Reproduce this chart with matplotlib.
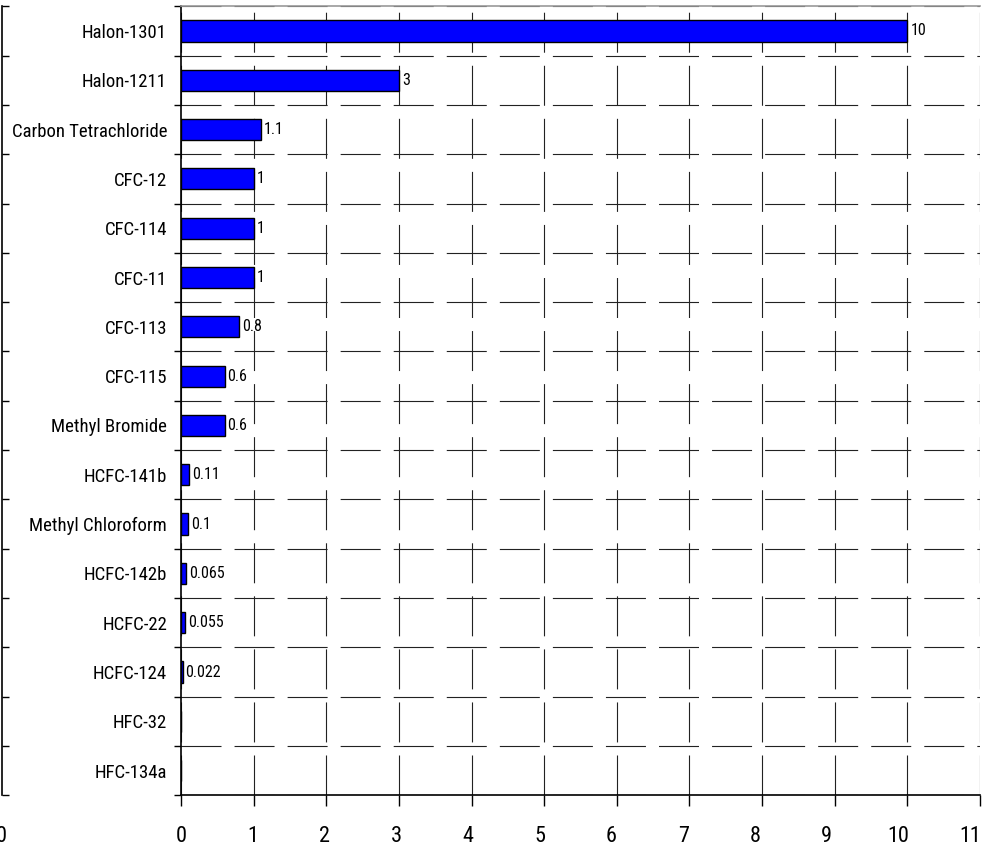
import matplotlib
matplotlib.use("Agg")
import matplotlib.pyplot as plt
from matplotlib.transforms import ScaledTranslation
import numpy as np

# Ozone depletion potential by substance
substances = ["Halon-1301", "Halon-1211", "Carbon Tetrachloride", "CFC-12", "CFC-114",
              "CFC-11", "CFC-113", "CFC-115", "Methyl Bromide", "HCFC-141b",
              "Methyl Chloroform", "HCFC-142b", "HCFC-22", "HCFC-124", "HFC-32", "HFC-134a"]
odp = [10, 3, 1.1, 1, 1, 1, 0.8, 0.6, 0.6, 0.11, 0.1, 0.065, 0.055, 0.022, 0, 0]
odp_labels = ["10", "3", "1.1", "1", "1", "1", "0.8", "0.6", "0.6", "0.11", "0.1",
              "0.065", "0.055", "0.022", "", ""]
x_ticks = list(range(0, 12))

plt.rcParams['font.family'] = ['Roboto Condensed', 'Archivo Narrow', 'Liberation Sans Narrow',
                               'Liberation Sans', 'DejaVu Sans']
plt.rcParams['lines.scale_dashes'] = False

W, H = 982, 850
fig = plt.figure(figsize=(W / 100, H / 100), dpi=100)

left, right, top, bottom = 181, 980, 6.3, 795.3
ax = fig.add_axes([left / W, 1 - bottom / H, (right - left) / W, (bottom - top) / H])

y = np.arange(len(substances))
ax.barh(y, odp, height=0.43, color='#0000ff', edgecolor='black', linewidth=1.0, zorder=3)

for yi, v, lab in zip(y, odp, odp_labels):
    if lab:
        ax.annotate(lab, (v, yi), xytext=(3, 0), textcoords='offset pixels',
                    va='center', ha='left', fontsize=11.5)

ax.set_xlim(0, 11)
ax.set_ylim(len(substances) - 0.5, -0.5)
ax.set_xticks(x_ticks)
ax.set_xticklabels([str(t) for t in x_ticks], fontsize=16)
ax.set_yticks(y)
ax.set_yticklabels(substances, fontsize=13.5)
bounds = np.arange(len(substances) + 1) - 0.5
ax.set_yticks(bounds, minor=True)

ax.tick_params(axis='y', which='major', length=0, pad=10)
ax.tick_params(axis='y', which='minor', length=5, width=1, direction='out')
ax.tick_params(axis='x', which='major', length=8, width=1, direction='out', pad=14)

# the labels in the original drift slightly left of their ticks
for i, lbl in enumerate(ax.get_xticklabels()):
    lbl.set_transform(lbl.get_transform() + ScaledTranslation(-0.009 * i, 0, fig.dpi_scale_trans))

dash = (0, (28.8, 9.4))
ax.grid(True, which='major', axis='x', color='#222222', linewidth=0.8, linestyle=dash, zorder=0)
ax.grid(True, which='minor', axis='y', color='#222222', linewidth=0.8, linestyle=dash, zorder=0)
ax.set_axisbelow(True)

ax.spines['right'].set_visible(False)
ax.spines['top'].set_color('#999999')
ax.spines['top'].set_linewidth(1.2)
ax.spines['left'].set_linewidth(1.2)
ax.spines['bottom'].set_linewidth(1.2)

# ghost axis on the far left
ax2 = fig.add_axes([1.5 / W, 1 - bottom / H, 1 / W, (bottom - top) / H], sharey=ax)
ax2.patch.set_visible(False)
for s in ['top', 'right', 'bottom']:
    ax2.spines[s].set_visible(False)
ax2.spines['left'].set_linewidth(1.2)
ax2.set_xlim(0, 1)
ax2.set_xticks([0])
ax2.set_xticklabels(["0"], fontsize=16)
ax2.tick_params(axis='x', length=0, pad=22)
ax2.tick_params(axis='y', which='major', length=0, labelleft=False)
ax2.tick_params(axis='y', which='minor', length=5, width=1, direction='in', labelleft=False)

fig.savefig("out.png", dpi=100)
